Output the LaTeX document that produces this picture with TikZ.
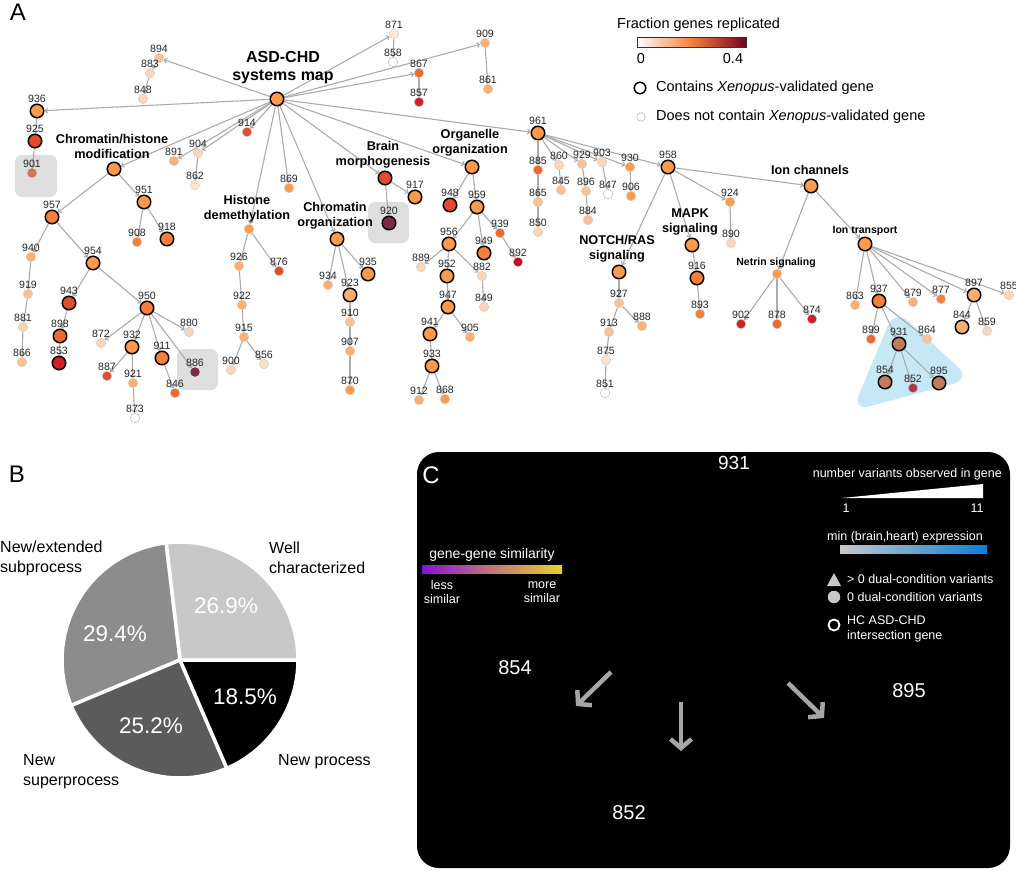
\documentclass[tikz,border=0pt]{standalone}
\usepackage{fontspec}
\setmainfont{Liberation Sans}
\usetikzlibrary{arrows.meta, positioning}
\pgfdeclarelayer{back}
\pgfsetlayers{back,main}
\definecolor{edgeGray}{HTML}{ABABAB}
\definecolor{boxGray}{HTML}{DEDEDE}
\definecolor{hullBlue}{HTML}{C6E7F6}
\definecolor{repPale}{HTML}{FDD5B6}
\definecolor{repLight}{HTML}{FDBF94}
\definecolor{repSoft}{HTML}{FDAE70}
\definecolor{repMid}{HTML}{FD9A4C}
\definecolor{repOrange}{HTML}{F6803A}
\definecolor{repDeep}{HTML}{EE6A2E}
\definecolor{repRed}{HTML}{E14C2C}
\definecolor{repCrimson}{HTML}{CF2225}
\definecolor{repRuby}{HTML}{C4062A}
\definecolor{repWine}{HTML}{A83A50}
\definecolor{repPlum}{HTML}{7E2B46}
\definecolor{repDark}{HTML}{7A0022}
\definecolor{repBlend}{HTML}{C47A5C}
\definecolor{repMuted}{HTML}{D27556}
\definecolor{pieWell}{HTML}{C8C8C8}
\definecolor{pieExt}{HTML}{8C8C8C}
\definecolor{pieSuper}{HTML}{5B5B5B}
\definecolor{exprGray}{HTML}{C8C8C8}
\definecolor{exprBlue}{HTML}{0A80D8}
\definecolor{simPurple}{HTML}{8A10D8}
\definecolor{simRose}{HTML}{C07878}
\definecolor{simGold}{HTML}{E8D028}
\definecolor{arrowGray}{HTML}{A6A6A6}

\begin{document}
\begin{tikzpicture}[x=1pt, y=-1pt,
    edge/.style={color=edgeGray, line width=1.1pt, -{Straight Barb[length=2.4pt,width=5pt]}},
    gene/.style={circle, draw=black!20, line width=0.4pt, minimum size=9.5pt, inner sep=0pt, label distance=0.4pt},
    hub/.style={circle, draw=black, line width=1.5pt, minimum size=13.5pt, inner sep=0pt, label distance=1pt},
    num/.style={font=\fontsize{10.6}{12}\selectfont, text=black!85, inner sep=0.5pt},
    lab/.style={label={[num]above:#1}},
    cat/.style={font=\bfseries\fontsize{12.7}{15}\selectfont, align=center, inner sep=0pt},
    subcat/.style={font=\bfseries\fontsize{10.5}{12}\selectfont, inner sep=0pt},
    legend/.style={font=\fontsize{14.5}{17}\selectfont, inner sep=0pt},
    panel/.style={font=\fontsize{24}{26}\selectfont, inner sep=0pt},
    pct/.style={font=\fontsize{22.5}{26}\selectfont, text=white, inner sep=0pt},
    slice/.style={font=\fontsize{16}{20}\selectfont, align=left, anchor=west, inner sep=0pt},
    ctext/.style={font=\fontsize{12.5}{14.5}\selectfont, text=white, inner sep=0pt},
    cgene/.style={font=\fontsize{20}{22}\selectfont, text=white, inner sep=0pt},
    bigarrow/.style={arrowGray, line width=4.5pt, -{Straight Barb[length=9pt,width=21pt,line width=4.5pt]}}]
  \useasboundingbox (0,0) rectangle (1016,870);

  % ---------------- A: systems map ----------------
  \node[panel] (labA) at (18,12) {A};

  % root
  \node[hub, fill=repMid] (root) at (277,99) {};
  \node[font=\bfseries\fontsize{16}{18}\selectfont, align=center, inner sep=0pt] (tRoot) at (283,68) {ASD-CHD\\systems map};

  % left branches
  \node[gene, fill=repLight, lab=894] (n894) at (159,58) {};
  \node[gene, fill=repPale, lab=883] (n883) at (150,73) {};
  \node[gene, fill=repPale, lab=848] (n848) at (143,99) {};
  \node[hub, fill=repMid, lab=936] (n936) at (37,111) {};
  \node[hub, fill=repRed, lab=925] (n925) at (35,141) {};
  \node[gene, fill=repMuted, draw=none, lab=901] (n901) at (32,173) {};
  \node[gene, fill=repRed, lab=914] (n914) at (247,132) {};
  \node[gene, fill=repPale, lab=904] (n904) at (198,153) {};
  \node[gene, fill=repSoft, lab=891] (n891) at (174,161) {};
  \node[gene, fill=repPale!60, lab=862] (n862) at (195,185) {};
  \node[gene, fill=repMid, lab=869] (n869) at (289,188) {};

  % chromatin/histone modification
  \node[hub, fill=repMid] (chrom) at (114,169) {};
  \node[cat] (tChrom) at (112,146) {Chromatin/histone\\modification};
  \node[hub, fill=repMid, lab=951] (n951) at (144,202) {};
  \node[hub, fill=repOrange, lab=957] (n957) at (52,217) {};
  \node[gene, fill=repOrange, lab=908] (n908) at (137,242) {};
  \node[hub, fill=repOrange, lab=918] (n918) at (167,239) {};
  \node[gene, fill=repSoft, lab=940] (n940) at (31,257) {};
  \node[hub, fill=repMid, lab=954] (n954) at (93,263) {};
  \node[gene, fill=repLight, lab=919] (n919) at (28,294) {};
  \node[hub, fill=repRed, lab=943] (n943) at (69,303) {};
  \node[hub, fill=repOrange, lab=950] (n950) at (147,308) {};
  \node[gene, fill=repPale, lab=881] (n881) at (23,327) {};
  \node[hub, fill=repDeep, lab=898] (n898) at (60,336) {};
  \node[gene, fill=repPale, lab=880] (n880) at (189,332) {};
  \node[gene, fill=repPale, lab=872] (n872) at (101,343) {};
  \node[hub, fill=repMid, lab=932] (n932) at (132,347) {};
  \node[hub, fill=repOrange, lab=911] (n911) at (162,358) {};
  \node[gene, fill=repLight, lab=866] (n866) at (22,362) {};
  \node[hub, fill=repCrimson, lab=853] (n853) at (59,363) {};
  \node[gene, fill=repPlum, draw=none, lab=886] (n886) at (195,372) {};
  \node[gene, fill=repRed, lab=887] (n887) at (107,376) {};
  \node[gene, fill=repSoft, lab=921] (n921) at (133,383) {};
  \node[gene, fill=repDeep, lab=846] (n846) at (175,393) {};
  \node[gene, fill=white, draw=black!30, lab=873] (n873) at (135,418) {};

  % histone demethylation
  \node[gene, fill=repMid] (hdem) at (249,229) {};
  \node[cat] (tHdem) at (247,209) {Histone\\demethylation};
  \node[gene, fill=repSoft, lab=926] (n926) at (239,266) {};
  \node[gene, fill=repRed, lab=876] (n876) at (279,271) {};
  \node[gene, fill=repSoft, lab=922] (n922) at (242,305) {};
  \node[gene, fill=repSoft, lab=915] (n915) at (244,337) {};
  \node[gene, fill=repPale, lab=900] (n900) at (231,370) {};
  \node[gene, fill=repPale!80, lab=856] (n856) at (264,364) {};

  % chromatin organization
  \node[hub, fill=repMid] (corg) at (337,239) {};
  \node[cat] (tCorg) at (335,216) {Chromatin\\organization};
  \node[gene, fill=repSoft, lab=934] (n934) at (328,285) {};
  \node[hub, fill=repMid, lab=935] (n935) at (368,274) {};
  \node[hub, fill=repSoft, lab=923] (n923) at (350,295) {};
  \node[gene, fill=repLight, lab=910] (n910) at (350,322) {};
  \node[gene, fill=repSoft, lab=907] (n907) at (350,351) {};
  \node[gene, fill=repMid, lab=870] (n870) at (350,390) {};

  % brain morphogenesis
  \node[hub, fill=repRed] (brain) at (385,178) {};
  \node[cat] (tBrain) at (383,155) {Brain\\morphogenesis};
  \node[hub, fill=repMid, lab=917] (n917) at (415,197) {};
  \node[hub, fill=repPlum, lab=920] (n920) at (389,223) {};

  % organelle organization
  \node[hub, fill=repMid] (organ) at (472,167) {};
  \node[cat] (tOrgan) at (470,143) {Organelle\\organization};
  \node[hub, fill=repRed, lab=948] (n948) at (450,205) {};
  \node[hub, fill=repMid, lab=959] (n959) at (477,207) {};
  \node[gene, fill=repDeep, lab=939] (n939) at (500,233) {};
  \node[gene, fill=repRuby, lab=892] (n892) at (518,262) {};
  \node[hub, fill=repMid, lab=956] (n956) at (449,244) {};
  \node[hub, fill=repOrange, lab=949] (n949) at (484,253) {};
  \node[gene, fill=repPale, lab=889] (n889) at (421,267) {};
  \node[hub, fill=repMid, lab=952] (n952) at (447,276) {};
  \node[gene, fill=repPale, lab=882] (n882) at (482,276) {};
  \node[hub, fill=repMid, lab=947] (n947) at (448,307) {};
  \node[gene, fill=repPale, lab=849] (n849) at (484,307) {};
  \node[hub, fill=repMid, lab=941] (n941) at (430,334) {};
  \node[gene, fill=repSoft, lab=905] (n905) at (470,337) {};
  \node[hub, fill=repMid, lab=933] (n933) at (432,366) {};
  \node[gene, fill=repSoft, lab=912] (n912) at (419,400) {};
  \node[gene, fill=repMid, lab=868] (n868) at (445,399) {};

  % top branches
  \node[gene, fill=repPale!60, lab=871] (n871) at (394,34) {};
  \node[gene, fill=white, draw=black!30, lab=858] (n858) at (393,62) {};
  \node[gene, fill=repDeep, lab=867] (n867) at (419,73) {};
  \node[gene, fill=repCrimson, lab=857] (n857) at (419,102) {};
  \node[gene, fill=repSoft, lab=909] (n909) at (485,43) {};
  \node[gene, fill=repSoft, lab=861] (n861) at (488,89) {};

  % 961 branch
  \node[hub, fill=repMid, lab=961] (n961) at (538,133) {};
  \node[gene, fill=repDeep, lab=885] (n885) at (538,170) {};
  \node[gene, fill=repPale, lab=860] (n860) at (559,165) {};
  \node[gene, fill=repLight, lab=845] (n845) at (561,190) {};
  \node[gene, fill=repLight, lab=929] (n929) at (582,164) {};
  \node[gene, fill=repLight, lab=896] (n896) at (586,191) {};
  \node[gene, fill=repLight, lab=884] (n884) at (588,220) {};
  \node[gene, fill=repPale, lab=903] (n903) at (602,162) {};
  \node[gene, fill=white, draw=black!30, lab=847] (n847) at (608,194) {};
  \node[gene, fill=repMid, lab=930] (n930) at (630,167) {};
  \node[gene, fill=repMid, lab=906] (n906) at (631,196) {};
  \node[gene, fill=repLight, lab=865] (n865) at (538,202) {};
  \node[gene, fill=repPale, lab=850] (n850) at (538,232) {};

  % 958 branch
  \node[hub, fill=repMid, lab=958] (n958) at (668,167) {};
  \node[gene, fill=repMid, lab=924] (n924) at (730,202) {};
  \node[gene, fill=repPale, lab=890] (n890) at (731,243) {};
  \node[hub, fill=repMid] (mapk) at (692,245) {};
  \node[cat] (tMapk) at (690,222) {MAPK\\signaling};
  \node[hub, fill=repOrange, lab=916] (n916) at (697,278) {};
  \node[gene, fill=repOrange, lab=893] (n893) at (700,314) {};
  \node[hub, fill=repMid] (notch) at (619,272) {};
  \node[cat] (tNotch) at (617,249) {NOTCH/RAS\\signaling};
  \node[gene, fill=repLight, lab=927] (n927) at (619,303) {};
  \node[gene, fill=repLight, lab=913] (n913) at (609,332) {};
  \node[gene, fill=repSoft, lab=888] (n888) at (642,326) {};
  \node[gene, fill=repPale!70, lab=875] (n875) at (606,360) {};
  \node[gene, fill=white, draw=black!30, lab=851] (n851) at (605,393) {};

  % ion channels
  \node[hub, fill=repMid] (ionch) at (811,186) {};
  \node[cat] (tIonch) at (810,170) {Ion channels};
  \node[gene, fill=repMid] (netrin) at (777,274) {};
  \node[subcat] (tNetrin) at (776,263) {Netrin signaling};
  \node[gene, fill=repCrimson, lab=902] (n902) at (741,324) {};
  \node[gene, fill=repDeep, lab=878] (n878) at (777,324) {};
  \node[gene, fill=repCrimson, lab=874] (n874) at (812,319) {};
  \node[hub, fill=repMid] (iontr) at (865,244) {};
  \node[subcat] (tIontr) at (865,231) {Ion transport};
  \node[gene, fill=repSoft, lab=863] (n863) at (855,305) {};
  \node[hub, fill=repOrange, lab=937] (n937) at (879,301) {};
  \node[gene, fill=repSoft, lab=879] (n879) at (913,302) {};
  \node[gene, fill=repOrange, lab=877] (n877) at (941,299) {};
  \node[hub, fill=repSoft, lab=897] (n897) at (974,295) {};
  \node[gene, fill=repPale, lab=855] (n855) at (1009,295) {};
  \node[hub, fill=repSoft, lab=844] (n844) at (962,327) {};
  \node[gene, fill=repPale, lab=859] (n859) at (987,331) {};
  \node[gene, fill=repDeep, lab=899] (n899) at (871,339) {};
  \node[gene, fill=repLight, lab=864] (n864) at (927,339) {};
  \node[hub, fill=repBlend, lab=931] (n931) at (899,344) {};
  \node[hub, fill=repBlend, lab=854] (n854) at (885,382) {};
  \node[gene, fill=repWine, lab=852] (n852) at (913,388) {};
  \node[hub, fill=repBlend, lab=895] (n895) at (939,383) {};

  \begin{pgfonlayer}{back}
  % highlight boxes
  \fill[boxGray, rounded corners=7pt] (15,155) rectangle (57,197);
  \fill[boxGray, rounded corners=7pt] (177,349) rectangle (218,390);
  \fill[boxGray, rounded corners=7pt] (368,202) rectangle (409,243);
  \fill[hullBlue, rounded corners=18pt] (895,309) -- (852,411) -- (971,379) -- cycle;

  % connectors
  \path[edge] (root) edge (n894) edge (n936) edge (n914) edge (n904) edge (n891) edge (chrom)
    edge (n869) edge (hdem) edge (corg) edge (brain) edge (organ) edge (n961)
    edge (n871) edge (n867) edge (n909);
  \path[edge] (n894) edge (n883);
  \path[edge] (n883) edge (n848);
  \path[edge] (n936) edge (n925);
  \path[edge] (n925) edge (n901);
  \path[edge] (n904) edge (n862);
  \path[edge] (chrom) edge (n957) edge (n951);
  \path[edge] (n951) edge (n908) edge (n918);
  \path[edge] (n957) edge (n940) edge (n954);
  \path[edge] (n940) edge (n919);
  \path[edge] (n919) edge (n881);
  \path[edge] (n881) edge (n866);
  \path[edge] (n954) edge (n943) edge (n950);
  \path[edge] (n943) edge (n898);
  \path[edge] (n898) edge (n853);
  \path[edge] (n950) edge (n872) edge (n932) edge (n911) edge (n886) edge (n880);
  \path[edge] (n932) edge (n887) edge (n921);
  \path[edge] (n921) edge (n873);
  \path[edge] (n911) edge (n846);
  \path[edge] (hdem) edge (n926) edge (n876);
  \path[edge] (n926) edge (n922);
  \path[edge] (n922) edge (n915);
  \path[edge] (n915) edge (n900) edge (n856);
  \path[edge] (corg) edge (n934) edge (n923) edge (n935);
  \path[edge] (n923) edge (n910);
  \path[edge] (n910) edge (n907);
  \path[edge] (n907) edge (n870);
  \path[edge] (brain) edge (n920) edge (n917);
  \path[edge] (organ) edge (n948) edge (n959);
  \path[edge] (n959) edge (n956) edge (n949) edge (n939);
  \path[edge] (n939) edge (n892);
  \path[edge] (n956) edge (n889) edge (n952) edge (n882);
  \path[edge] (n882) edge (n849);
  \path[edge] (n952) edge (n947);
  \path[edge] (n947) edge (n941) edge (n905);
  \path[edge] (n941) edge (n933);
  \path[edge] (n933) edge (n912) edge (n868);
  \path[edge] (n871) edge (n858);
  \path[edge] (n867) edge (n857);
  \path[edge] (n909) edge (n861);
  \path[edge] (n961) edge (n885) edge (n860) edge (n929) edge (n903) edge (n930) edge (n958);
  \path[edge] (n885) edge (n865);
  \path[edge] (n865) edge (n850);
  \path[edge] (n860) edge (n845);
  \path[edge] (n929) edge (n896);
  \path[edge] (n896) edge (n884);
  \path[edge] (n903) edge (n847);
  \path[edge] (n930) edge (n906);
  \path[edge] (n958) edge (notch) edge (mapk) edge (n924) edge (ionch);
  \path[edge] (n924) edge (n890);
  \path[edge] (mapk) edge (n916);
  \path[edge] (n916) edge (n893);
  \path[edge] (notch) edge (n927);
  \path[edge] (n927) edge (n913) edge (n888);
  \path[edge] (n913) edge (n875);
  \path[edge] (n875) edge (n851);
  \path[edge] (ionch) edge (netrin) edge (iontr);
  \path[edge] (netrin) edge (n902) edge (n878) edge (n874);
  \path[edge] (iontr) edge (n863) edge (n937) edge (n879) edge (n877) edge (n897) edge (n855);
  \path[edge] (n937) edge (n899) edge (n931) edge (n864);
  \path[edge] (n931) edge (n854) edge (n852) edge (n895);
  \path[edge] (n897) edge (n844) edge (n859);
  \end{pgfonlayer}

  % legend
  \node[legend, anchor=west] (fracTitle) at (617,25) {Fraction genes replicated};
  \node[draw=black!80, line width=0.8pt, minimum width=109pt, minimum height=10pt, inner sep=0pt,
    left color=white, right color=repDark, middle color=repOrange] (fracBar) at (691.5,42) {};
  \node[legend] (fracLo) at (641,59) {0};
  \node[legend] (fracHi) at (733,59) {0.4};
  \node[hub, fill=white, minimum size=11.5pt] (legHub) at (640,88) {};
  \node[legend, anchor=west] (legHubText) at (656,88) {Contains \textit{Xenopus}-validated gene};
  \node[gene, fill=white, draw=black!40, minimum size=8.5pt] (legGene) at (641,117) {};
  \node[legend, anchor=west] (legGeneText) at (656,117) {Does not contain \textit{Xenopus}-validated gene};

  % ---------------- B: pie ----------------
  \node[panel] (labB) at (17,474) {B};
  \begin{scope}[shift={(180,660)}, y=1pt]
    \filldraw[fill=pieWell, draw=white, line width=3.5pt] (0,0) -- (0:118) arc[start angle=0, end angle=96.8, radius=118] -- cycle;
    \filldraw[fill=pieExt, draw=white, line width=3.5pt] (0,0) -- (96.8:118) arc[start angle=96.8, end angle=202.7, radius=118] -- cycle;
    \filldraw[fill=pieSuper, draw=white, line width=3.5pt] (0,0) -- (202.7:118) arc[start angle=202.7, end angle=293.4, radius=118] -- cycle;
    \filldraw[fill=black, draw=white, line width=3.5pt] (0,0) -- (293.4:118) arc[start angle=293.4, end angle=360, radius=118] -- cycle;
  \end{scope}
  \node[pct] (pWell) at (226,606) {26.9\%};
  \node[pct] (pExt) at (115,634) {29.4\%};
  \node[pct] (pSuper) at (151,726) {25.2\%};
  \node[pct] (pNew) at (245,697) {18.5\%};
  \node[slice] (sExt) at (0,558) {New/extended\\subprocess};
  \node[slice] (sWell) at (269,558) {Well\\characterized};
  \node[slice] (sSuper) at (23,772) {New\\superprocess};
  \node[slice] (sNew) at (278,762) {New process};

  % ---------------- C: 931 detail ----------------
  \fill[black, rounded corners=22pt] (417,452) rectangle (1010,868);
  \node[panel, text=white] (labC) at (431,475) {C};
  \node[font=\fontsize{19}{21}\selectfont, text=white, inner sep=0pt] (c931) at (734,463) {931};
  \node[ctext, anchor=east] (varTitle) at (1002,474) {number variants observed in gene};
  \fill[white] (842,498) -- (983,484) -- (983,498) -- cycle;
  \node[ctext] (varLo) at (846,508) {1};
  \node[ctext] (varHi) at (977,508) {11};
  \node[ctext] (exprTitle) at (905,537) {min (brain,heart) expression};
  \node[minimum width=147pt, minimum height=8pt, inner sep=0pt,
    left color=exprGray, right color=exprBlue] (exprBar) at (913.5,549) {};
  \node[font=\fontsize{14}{16}\selectfont, text=white, inner sep=0pt] (simTitle) at (492,555) {gene-gene similarity};
  \node[minimum width=140pt, minimum height=8pt, inner sep=0pt,
    left color=simPurple, right color=simGold, middle color=simRose] (simBar) at (492,569) {};
  \node[ctext, align=center] (simLo) at (442,592) {less\\similar};
  \node[ctext, align=center] (simHi) at (542,592) {more\\similar};
  \fill[exprGray] (827,586) -- (841,586) -- (834,573) -- cycle;
  \node[ctext, anchor=west] (dualYes) at (847,579) {> 0 dual-condition variants};
  \node[circle, fill=exprGray, minimum size=12.5pt, inner sep=0pt] (dualDot) at (834,597) {};
  \node[ctext, anchor=west] (dualNo) at (847,597) {0 dual-condition variants};
  \node[circle, draw=white, line width=1.8pt, minimum size=11pt, inner sep=0pt] (hcRing) at (834,625) {};
  \node[ctext, anchor=west, align=left] (hcText) at (847,629) {HC ASD-CHD\\intersection gene};
  \node[cgene] (c854) at (515,668) {854};
  \node[cgene] (c895) at (909,691) {895};
  \node[cgene] (c852) at (629,813) {852};
  \coordinate (a854s) at (611,672);
  \coordinate (a854e) at (576,706);
  \coordinate (a852s) at (681,702);
  \coordinate (a852e) at (681,751);
  \coordinate (a895s) at (788,683);
  \coordinate (a895e) at (824,718);
  \draw[bigarrow] (a854s) -- (a854e);
  \draw[bigarrow] (a852s) -- (a852e);
  \draw[bigarrow] (a895s) -- (a895e);
\end{tikzpicture}
\end{document}
